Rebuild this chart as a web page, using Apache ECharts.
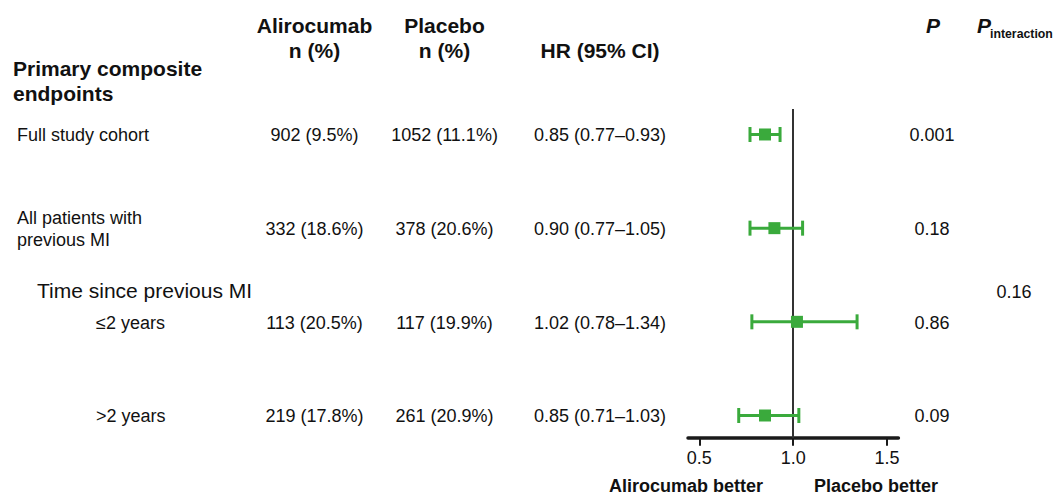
<!DOCTYPE html>
<html>
<head>
<meta charset="utf-8">
<script src="https://cdn.jsdelivr.net/npm/echarts@6/dist/echarts.min.js"></script>
<style>
  html, body { margin: 0; padding: 0; background: #fff; }
  #chart { width: 1053px; height: 495px; }
</style>
</head>
<body>
<div id="chart"></div>
<script>
// table rows
const groups = ['Full study cohort', 'All patients with\nprevious MI', '≤2 years', '>2 years']
const isSubgroup = [false, false, true, true]
const alirocumab = ['902 (9.5%)', '332 (18.6%)', '113 (20.5%)', '219 (17.8%)']
const placebo = ['1052 (11.1%)', '378 (20.6%)', '117 (19.9%)', '261 (20.9%)']
const hr = [0.85, 0.90, 1.02, 0.85]
const ciLow = [0.77, 0.77, 0.78, 0.71]
const ciHigh = [0.93, 1.05, 1.34, 1.03]
const pValues = ['0.001', '0.18', '0.86', '0.09']
const subgroupTitle = 'Time since previous MI'
const pInteraction = '0.16'
const xTicks = [0.5, 1.0, 1.5]

const FONT = '"Liberation Sans", Arial, sans-serif'
const TEXT = '#111'
const GREEN = '#3aaa3c'

const chart = echarts.init(document.getElementById('chart'), null, { renderer: 'svg' })

function label(text, x, y, opts) {
  return {
    type: 'text',
    x: x,
    y: y,
    silent: true,
    style: Object.assign({
      text: text,
      fill: TEXT,
      fontFamily: FONT,
      fontSize: 18,
      align: 'center',
      verticalAlign: 'middle',
    }, opts),
  }
}

function renderRowText(params, api) {
  const i = params.dataIndex
  const y = api.coord([1, i])[1] + 1
  return {
    type: 'group',
    children: [
      label(groups[i], isSubgroup[i] ? 96 : 17, y, { align: 'left', lineHeight: 22 }),
      label(alirocumab[i], 314.5, y),
      label(placebo[i], 444.5, y),
      label(hr[i].toFixed(2) + ' (' + ciLow[i].toFixed(2) + '–' + ciHigh[i].toFixed(2) + ')', 600, y),
      label(pValues[i], 932, y),
    ],
  }
}

function renderWhisker(params, api) {
  const lo = api.coord([api.value(0), api.value(2)])
  const hi = api.coord([api.value(1), api.value(2)])
  const style = { stroke: GREEN, lineWidth: 3 }
  const cap = 7.5
  return {
    type: 'group',
    children: [
      { type: 'line', shape: { x1: lo[0], y1: lo[1], x2: hi[0], y2: hi[1] }, style: style },
      { type: 'line', shape: { x1: lo[0], y1: lo[1] - cap, x2: lo[0], y2: lo[1] + cap }, style: style },
      { type: 'line', shape: { x1: hi[0], y1: hi[1] - cap, x2: hi[0], y2: hi[1] + cap }, style: style },
    ],
  }
}

const bold = { fontWeight: 'bold', fontSize: 21, lineHeight: 25 }

chart.setOption({
  animation: false,
  backgroundColor: '#fff',
  grid: { left: 688, right: 154.6, top: 109, bottom: 57.3, outerBoundsMode: 'none' },
  xAxis: {
    type: 'value',
    position: 'bottom',
    min: 0.44,
    max: 1.56,
    splitLine: { show: false },
    axisLine: { show: true, onZero: false, lineStyle: { color: '#1a1a1a', width: 3.5 } },
    axisTick: { show: true, length: 8, lineStyle: { color: '#1a1a1a', width: 2 }, customValues: xTicks },
    axisLabel: {
      color: TEXT,
      fontSize: 18,
      fontFamily: FONT,
      margin: 11,
      customValues: xTicks,
      formatter: (v) => v.toFixed(1),
    },
  },
  yAxis: {
    type: 'value',
    inverse: true,
    min: -0.272,
    max: 3.237,
    show: false,
  },
  graphic: [
    label('Primary composite\nendpoints', 13, 80.5, Object.assign({ align: 'left' }, bold)),
    label('Alirocumab\nn (%)', 314.5, 37.5, bold),
    label('Placebo\nn (%)', 444.5, 37.5, bold),
    label('HR (95% CI)', 600, 50, bold),
    label('P', 933, 25, { fontWeight: 'bold', fontStyle: 'italic', fontSize: 21 }),
    label('P', 977, 25, { fontWeight: 'bold', fontStyle: 'italic', fontSize: 21, align: 'left' }),
    label('interaction', 990, 34, { fontWeight: 'bold', fontSize: 12.3, align: 'left' }),
    label(subgroupTitle, 37, 290, { fontSize: 21, align: 'left' }),
    label(pInteraction, 1014, 292),
    label('Alirocumab better', 686, 486, { fontWeight: 'bold' }),
    label('Placebo better', 876, 486, { fontWeight: 'bold' }),
  ],
  series: [
    {
      type: 'custom',
      name: 'rows',
      renderItem: renderRowText,
      data: hr.map((v, i) => [v, i]),
      encode: { x: 0, y: 1 },
      silent: true,
      z: 1,
    },
    {
      type: 'custom',
      name: 'ci',
      renderItem: renderWhisker,
      data: hr.map((v, i) => [ciLow[i], ciHigh[i], i]),
      encode: { x: [0, 1], y: 2 },
      silent: true,
      z: 3,
    },
    {
      type: 'scatter',
      name: 'HR',
      symbol: 'rect',
      symbolSize: 12,
      itemStyle: { color: GREEN, opacity: 1 },
      data: hr.map((v, i) => [v, i]),
      silent: true,
      z: 4,
      markLine: {
        silent: true,
        symbol: 'none',
        label: { show: false },
        lineStyle: { color: '#333', width: 2, type: 'solid' },
        data: [{ xAxis: 1 }],
        z: 2,
      },
    },
  ],
})
</script>
</body>
</html>
